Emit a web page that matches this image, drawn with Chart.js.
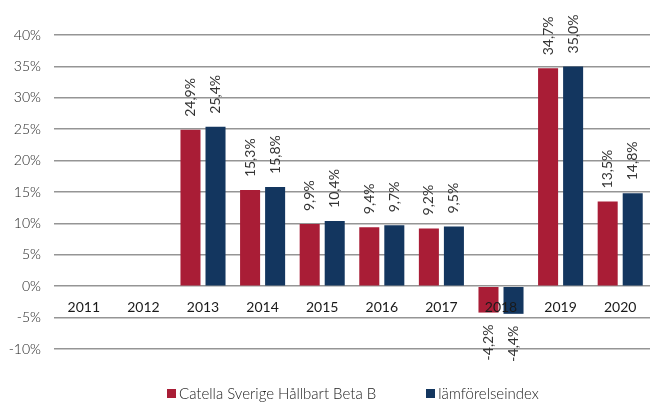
<!DOCTYPE html>
<html>
<head>
<meta charset="utf-8">
<script src="https://cdn.jsdelivr.net/npm/chart.js@4"></script>
<style>
	html, body { margin: 0; padding: 0; background: #fff; }
	#wrap { position: relative; width: 652px; height: 403px; }
	#legend {
		position: absolute; left: 167px; top: 384px;
		display: flex; gap: 50px;
		font-family: Lato, "Open Sans", sans-serif; font-weight: 300; font-size: 15px; color: #222;
	}
	#legend span.item { display: flex; align-items: center; white-space: nowrap; }
	#legend span.box { display: inline-block; width: 9px; height: 9px; margin-right: 3px; }
</style>
</head>
<body>
<div id="wrap">
	<canvas id="chart" width="652" height="403"></canvas>
	<div id="legend"></div>
</div>
<script>
// chart data
const years = ['2011', '2012', '2013', '2014', '2015', '2016', '2017', '2018', '2019', '2020'];
const fundValues = [null, null, 24.9, 15.3, 9.9, 9.4, 9.2, -4.2, 34.7, 13.5];
const indexValues = [null, null, 25.4, 15.8, 10.4, 9.7, 9.5, -4.4, 35.0, 14.8];
const seriesNames = ['Catella Sverige Hållbart Beta B', 'lämförelseindex'];
const seriesColors = ['#A91D36', '#13365F'];
const yTicks = [-10, -5, 0, 5, 10, 15, 20, 25, 30, 35, 40];

const fontFamily = 'Lato, "Open Sans", sans-serif';

// rotated value labels above / below bars
const valueLabels = {
	id: 'valueLabels',
	afterDatasetsDraw(chart) {
		const ctx = chart.ctx;
		ctx.save();
		ctx.fillStyle = '#333';
		ctx.font = '14px ' + fontFamily;
		ctx.textBaseline = 'middle';
		chart.data.datasets.forEach(function (ds, i) {
			chart.getDatasetMeta(i).data.forEach(function (bar, j) {
				const v = ds.data[j];
				if (v === null) return;
				const txt = v.toFixed(1).replace('.', ',') + '%';
				ctx.save();
				if (v >= 0) {
					ctx.translate(bar.x, bar.y - 13);
					ctx.rotate(-Math.PI / 2);
					ctx.textAlign = 'left';
				} else {
					ctx.translate(bar.x, bar.y + 12);
					ctx.rotate(-Math.PI / 2);
					ctx.textAlign = 'right';
				}
				ctx.fillText(txt, 0, 0);
				ctx.restore();
			});
		});
		ctx.restore();
	}
};

const ctx = document.getElementById('chart');
new Chart(ctx, {
	type: 'bar',
	data: {
		labels: years,
		datasets: [
			{ label: seriesNames[0], data: fundValues, backgroundColor: seriesColors[0] },
			{ label: seriesNames[1], data: indexValues, backgroundColor: seriesColors[1] }
		]
	},
	options: {
		responsive: false,
		animation: false,
		barPercentage: 0.8,
		categoryPercentage: 0.84,
		layout: { padding: { top: 35, right: 2, bottom: 54, left: 0 } },
		plugins: {
			legend: { display: false },
			tooltip: { enabled: false }
		},
		scales: {
			x: {
				position: { y: 0 },
				grid: { display: false },
				border: { display: false },
				ticks: { z: 1, color: '#1a1a1a', font: { family: fontFamily, size: 14 }, padding: 5 }
			},
			y: {
				min: -10,
				max: 40,
				afterFit: function (scale) { scale.width = 54; },
				afterBuildTicks: function (scale) { scale.ticks = yTicks.map(function (v) { return { value: v }; }); },
				grid: { color: '#959595', lineWidth: 1.6, drawTicks: false },
				border: { display: false },
				ticks: {
					color: '#222',
					padding: 13,
					font: { family: fontFamily, size: 14, weight: 300 },
					callback: function (v) { return v + '%'; }
				}
			}
		}
	},
	plugins: [valueLabels]
});

// legend
const legend = document.getElementById('legend');
seriesNames.forEach(function (name, i) {
	const item = document.createElement('span');
	item.className = 'item';
	const box = document.createElement('span');
	box.className = 'box';
	box.style.background = seriesColors[i];
	item.appendChild(box);
	item.appendChild(document.createTextNode(name));
	legend.appendChild(item);
});
</script>
</body>
</html>
